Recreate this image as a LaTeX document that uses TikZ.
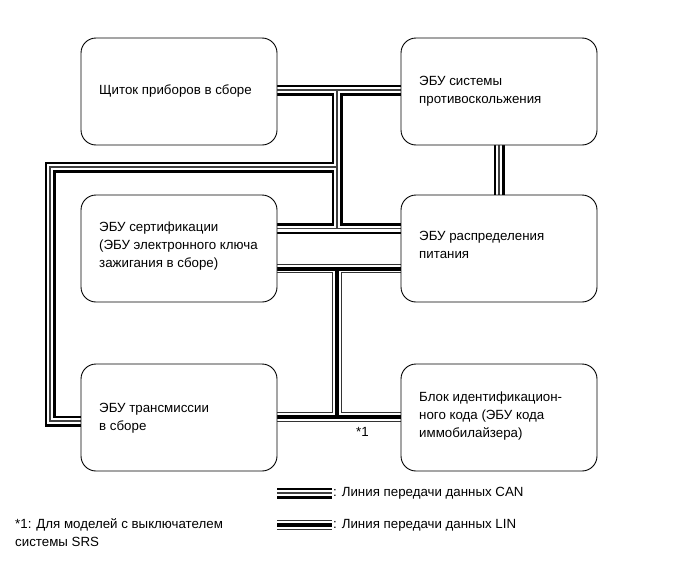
\documentclass[tikz,border=0pt]{standalone}
\usepackage{fontspec}
\setmainfont{Liberation Sans}
\pgfdeclarelayer{bg}
\pgfsetlayers{bg,main}
\begin{document}
\begin{tikzpicture}[x=1pt,y=-1pt,
  box/.style={draw=black, line width=0.9pt, rounded corners=15pt, fill=white,
    minimum width=196pt, minimum height=107pt, inner sep=0pt},
  txt/.style={anchor=west, align=left, inner sep=0pt, font=\fontsize{13.3}{18}\selectfont},
  canA/.style={line width=11pt, black, line join=miter},
  canB/.style={line width=6pt, white, line join=miter},
  canC/.style={line width=1.3pt, black!75, line join=miter},
  linA/.style={line width=9.5pt, black!80, line join=miter},
  linB/.style={line width=7.5pt, white, line join=miter},
  linC/.style={line width=4pt, black, line join=miter},
]
\useasboundingbox (0,0) rectangle (690,562);

% boxes
\node[box] (A) at (179,91.5) {};
\node[box] (B) at (499,91.5) {};
\node[box] (C) at (179,248.5) {};
\node[box] (D) at (499,248.5) {};
\node[box] (E) at (179,417.5) {};
\node[box] (F) at (499,417.5) {};

% box texts
\node[txt] (tA) at (99,91.5) {Щиток приборов в сборе};
\node[txt] (tB) at (419,91) {ЭБУ системы\\противоскольжения};
\node[txt] (tC) at (99,246) {ЭБУ сертификации\\(ЭБУ электронного ключа\\зажигания в сборе)};
\node[txt] (tD) at (419,245) {ЭБУ распределения\\питания};
\node[txt] (tE) at (99,418) {ЭБУ трансмиссии\\в сборе};
\node[txt] (tF) at (419,416) {Блок идентификацион-\\ного кода (ЭБУ кода\\иммобилайзера)};

% junctions and corners
\coordinate (j1) at (337,90);
\coordinate (j2) at (337,228.5);
\coordinate (j3) at (337,167);
\coordinate (k1) at (50,167);
\coordinate (k2) at (50,421);
\coordinate (j4) at (337,268.5);
\coordinate (j5) at (337,417);
\coordinate (lc1) at (277,493);
\coordinate (lc2) at (332,493);
\coordinate (ll1) at (277,525);
\coordinate (ll2) at (332,525);

\begin{pgfonlayer}{bg}
  \foreach \s in {canA,canB,canC}{
    \draw[\s] (A.center |- j1) -- (B.center |- j1);
    \draw[\s] (j1) -- (j2);
    \draw[\s] (C.center |- j2) -- (D.center |- j2);
    \draw[\s] (j3) -- (k1) -- (k2) -- (E.center |- k2);
    \draw[\s] (B) -- (D);
    \draw[\s] (lc1) -- (lc2);
  }
  \foreach \s in {linA,linB,linC}{
    \draw[\s] (C.center |- j4) -- (D.center |- j4);
    \draw[\s] (j4) -- (j5);
    \draw[\s] (E.center |- j5) -- (F.center |- j5);
    \draw[\s] (ll1) -- (ll2);
  }
\end{pgfonlayer}

\node[txt] (star) at (356,432) {*1};
\node[txt] (legc) at (333,493) {: Линия передачи данных CAN};
\node[txt] (legl) at (333,525) {: Линия передачи данных LIN};
\node[txt] (foot) at (15,533) {*1: Для моделей с выключателем\\системы SRS};
\end{tikzpicture}
\end{document}
